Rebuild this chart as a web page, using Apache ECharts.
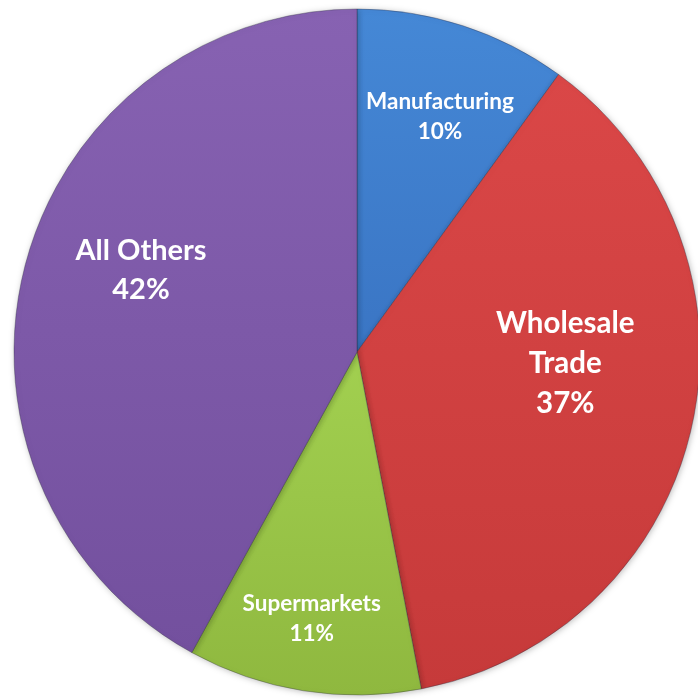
<!DOCTYPE html>
<html>
<head>
<meta charset="utf-8">
<script src="https://cdn.jsdelivr.net/npm/echarts@6/dist/echarts.min.js"></script>
<style>
html,body{margin:0;padding:0;background:#fff;}
#chart{width:698px;height:700px;}
</style>
</head>
<body>
<div id="chart"></div>
<script>
// Data
const categories = ['Manufacturing', 'Wholesale\nTrade', 'Supermarkets', 'All Others'];
const values = [10, 37, 11, 42];

// Styles (kept separate from data)
const sliceColors = [
  ['#4588d6', '#3a75c4'],
  ['#da4747', '#c63a3a'],
  ['#a2d050', '#8fb83f'],
  ['#8762b2', '#73509e']
];
const labelSizes = [22.5, 29.5, 22.5, 29];
const labelLineHeights = [30, 40, 30, 39];
const labelOffsets = [[29, -69], [38, -27], [-18, 94], [-47, -38]];

const chart = echarts.init(document.getElementById('chart'), null, {renderer: 'canvas'});

const seriesData = categories.map((name, i) => ({
  name: name,
  value: values[i],
  itemStyle: {
    color: new echarts.graphic.LinearGradient(0, 0, 0, 1, [
      {offset: 0, color: sliceColors[i][0]},
      {offset: 1, color: sliceColors[i][1]}
    ])
  },
  label: {
    fontSize: labelSizes[i],
    lineHeight: labelLineHeights[i],
    offset: labelOffsets[i]
  }
}));

chart.setOption({
  animation: false,
  series: [{
    type: 'pie',
    center: [357, 352],
    radius: [0, 343],
    startAngle: 90,
    clockwise: true,
    avoidLabelOverlap: false,
    data: seriesData,
    itemStyle: {
      borderColor: 'rgba(40,40,60,0.35)',
      borderWidth: 1,
      shadowColor: 'rgba(0,0,0,0.25)',
      shadowBlur: 6,
      shadowOffsetX: 1,
      shadowOffsetY: 1
    },
    label: {
      show: true,
      position: 'inside',
      color: '#ffffff',
      fontFamily: 'Lato, "Open Sans", sans-serif',
      fontWeight: 'bold',
      align: 'center',
      formatter: p => p.name + '\n' + p.value + '%'
    },
    labelLine: {show: false},
    emphasis: {disabled: true}
  }]
});
</script>
</body>
</html>
